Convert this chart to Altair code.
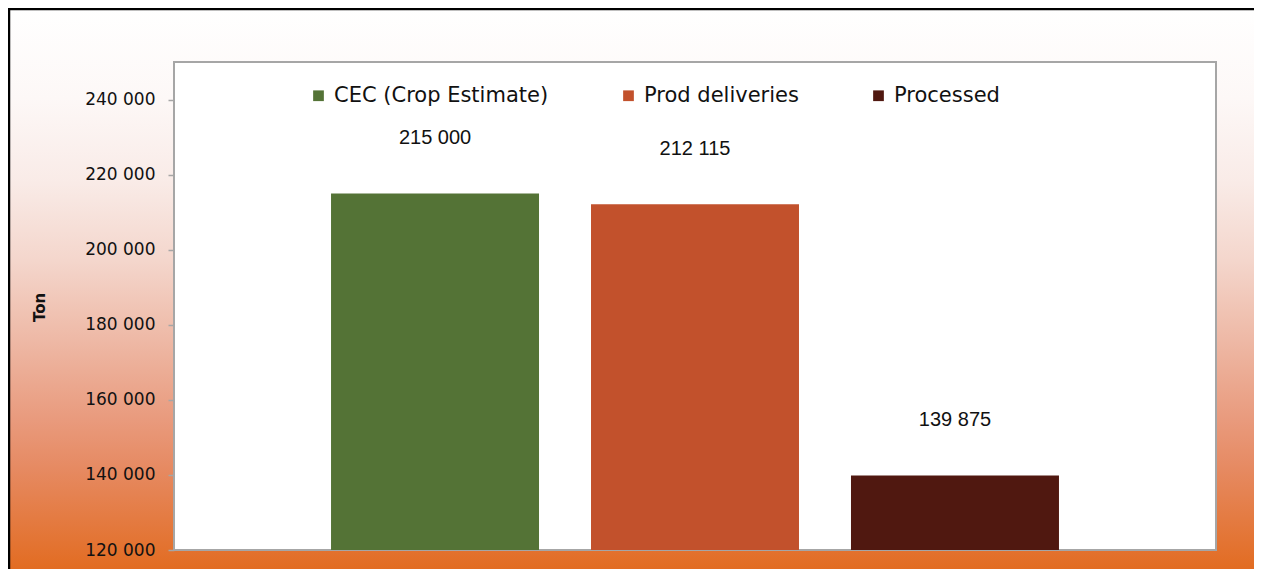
import altair as alt
import pandas as pd

# ---- data ----
categories = ["CEC (Crop Estimate)", "Prod deliveries", "Processed"]
values = [215000, 212115, 139875]
colors = ["#547336", "#c2512c", "#501810"]
y_ticks = [120000, 140000, 160000, 180000, 200000, 220000, 240000]
y_domain = [120000, 250000]

df = pd.DataFrame({"series": categories, "value": values})
one = pd.DataFrame({"k": [0]})

W, H = 1042, 488
PL, PR, PT, PB = 166, 38, 54, 19

fmt = "replace(format(datum.value, ','), ',', ' ')"

grad = alt.LinearGradient(
    gradient="linear",
    x1=0, x2=0, y1=0, y2=1,
    stops=[
        alt.GradientStop(color="#ffffff", offset=0.0),
        alt.GradientStop(color="#fdf8f7", offset=0.16),
        alt.GradientStop(color="#f9ebe7", offset=0.31),
        alt.GradientStop(color="#f4d6cc", offset=0.45),
        alt.GradientStop(color="#eeb9a6", offset=0.59),
        alt.GradientStop(color="#e99b7e", offset=0.73),
        alt.GradientStop(color="#e68a62", offset=0.82),
        alt.GradientStop(color="#e26c22", offset=1.0),
    ],
)

bg = alt.Chart(one).mark_rect(fill=grad, strokeWidth=0).encode(
    x=alt.value(-PL), x2=alt.value(W + PR + 10),
    y=alt.value(-PT), y2=alt.value(H + PB),
)

frame_top = alt.Chart(one).mark_rule(color="#000000", strokeWidth=2.5).encode(
    x=alt.value(-PL), x2=alt.value(W + PR + 10), y=alt.value(-PT + 1)
)
frame_left = alt.Chart(one).mark_rule(color="#000000", strokeWidth=2.5).encode(
    x=alt.value(-PL + 1), y=alt.value(-PT), y2=alt.value(H + PB)
)

plot_bg = alt.Chart(one).mark_rect(fill="white", stroke="#a6a6a6", strokeWidth=2).encode(
    x=alt.value(0), x2=alt.value("width"), y=alt.value(0), y2=alt.value("height")
)

x_enc = alt.X(
    "series:N",
    sort=categories,
    scale=alt.Scale(domain=categories, paddingInner=0.2, paddingOuter=0.604),
    axis=None,
)
y_enc = alt.Y(
    "value:Q",
    scale=alt.Scale(domain=y_domain, nice=False, zero=False),
    axis=alt.Axis(
        values=y_ticks,
        labelExpr=fmt,
        domain=False,
        grid=False,
        ticks=True,
        tickSize=6,
        tickColor="#a6a6a6",
        tickWidth=1.5,
        labelPadding=13,
        labelFont="DejaVu Sans",
        labelFontSize=17,
        labelColor="#111111",
        title="Ton",
        titleFont="DejaVu Sans",
        titleFontSize=15,
        titleFontWeight="bold",
        titleColor="#111111",
        titleAngle=270,
        titleX=-127,
        titleY=245,
        titleAlign="center",
        titleBaseline="bottom",
        zindex=1,
    ),
)

bars = alt.Chart(df).mark_bar(clip=True).encode(
    x=x_enc,
    y=y_enc,
    color=alt.Color(
        "series:N",
        sort=categories,
        scale=alt.Scale(domain=categories, range=colors),
        legend=alt.Legend(
            orient="none",
            legendX=134,
            legendY=23,
            direction="horizontal",
            title=None,
            symbolType="square",
            symbolSize=115,
            symbolStrokeWidth=0,
            labelFont="DejaVu Sans",
            labelFontSize=21,
            labelColor="#111111",
            labelLimit=400,
            labelOffset=5,
            columnPadding=69,
            padding=0,
            zindex=1,
        ),
    ),
)

labels = alt.Chart(df).transform_calculate(
    label=fmt
).mark_text(dy=-55, fontSize=20, font="Liberation Sans", color="#111111", baseline="middle").encode(
    x=x_enc, y=alt.Y("value:Q"), text="label:N"
)

chart = alt.layer(bg, frame_top, frame_left, plot_bg, bars, labels).properties(
    width=W,
    height=H,
    padding={"left": PL, "right": PR, "top": PT, "bottom": PB},
    autosize=alt.AutoSizeParams(type="none"),
).configure_view(stroke=None)

chart.save("out.html", embed_options={"renderer": "svg", "actions": False})
